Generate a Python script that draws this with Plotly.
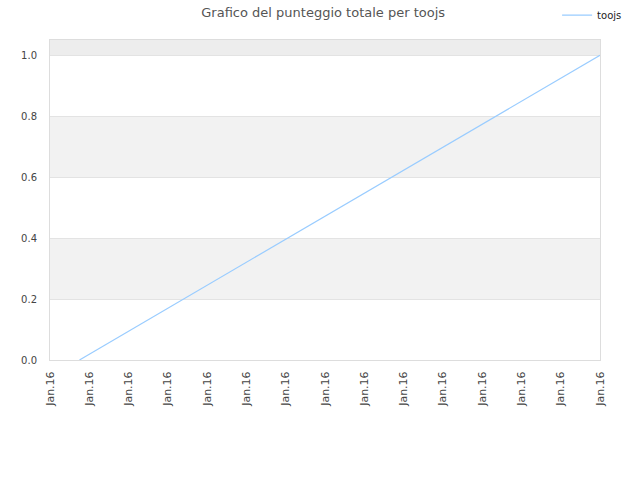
import plotly.graph_objects as go

# series data
x_vals = [0.75, 14]
y_vals = [0.0, 1.0]
series_name = 'toojs'

# x tick labels
x_ticks = list(range(15))
x_labels = ['Jan.16'] * 15

y_ticks = [0.0, 0.2, 0.4, 0.6, 0.8, 1.0]
y_labels = ['0.0', '0.2', '0.4', '0.6', '0.8', '1.0']

# alternating background bands
bands = [(0.2, 0.4, '#f2f2f2'), (0.6, 0.8, '#f2f2f2'), (1.0, 1.05, '#ededed')]

fig = go.Figure()

fig.add_trace(go.Scatter(x = x_vals,
                         y = y_vals,
                         mode = 'lines',
                         name = series_name,
                         line = dict(color = '#99ccff', width = 1.2)))

for y0, y1, col in bands:
    fig.add_hrect(y0 = y0, y1 = y1, fillcolor = col, line_width = 0, layer = 'below')

fig.update_layout(
    width = 640,
    height = 480,
    paper_bgcolor = 'white',
    plot_bgcolor = 'white',
    font = dict(family = 'DejaVu Sans', size = 10, color = '#444444'),
    title = dict(text = 'Grafico del punteggio totale per toojs',
                 x = 0.505, xanchor = 'center', y = 0.975, yanchor = 'middle',
                 font = dict(size = 13, color = '#555555')),
    margin = dict(l = 50, r = 40, t = 40, b = 120, autoexpand = False),
    showlegend = True,
    legend = dict(x = 0.922, y = 1.078, xanchor = 'left', yanchor = 'middle',
                  itemwidth = 30,
                  bgcolor = 'rgba(0,0,0,0)', font = dict(size = 10, color = '#222222')),
)

fig.update_xaxes(range = [0, 14],
                 tickvals = x_ticks,
                 ticktext = x_labels,
                 tickangle = -90,
                 tickfont = dict(size = 11),
                 showgrid = False,
                 zeroline = False,
                 showline = True,
                 linecolor = '#dddddd',
                 mirror = True,
                 ticks = '',
                 ticklabelstandoff = 6)

fig.update_yaxes(range = [0, 1.05],
                 tickvals = y_ticks,
                 ticktext = y_labels,
                 showgrid = True,
                 gridcolor = '#e3e3e3',
                 zeroline = False,
                 showline = True,
                 linecolor = '#dddddd',
                 mirror = True,
                 ticks = '',
                 ticklabelstandoff = 10)

# drop the default page margin so the figure sits at the window corner
fig.write_html("out.html",
               config = {'displayModeBar': False},
               post_script = "document.body.style.margin = '0';")
